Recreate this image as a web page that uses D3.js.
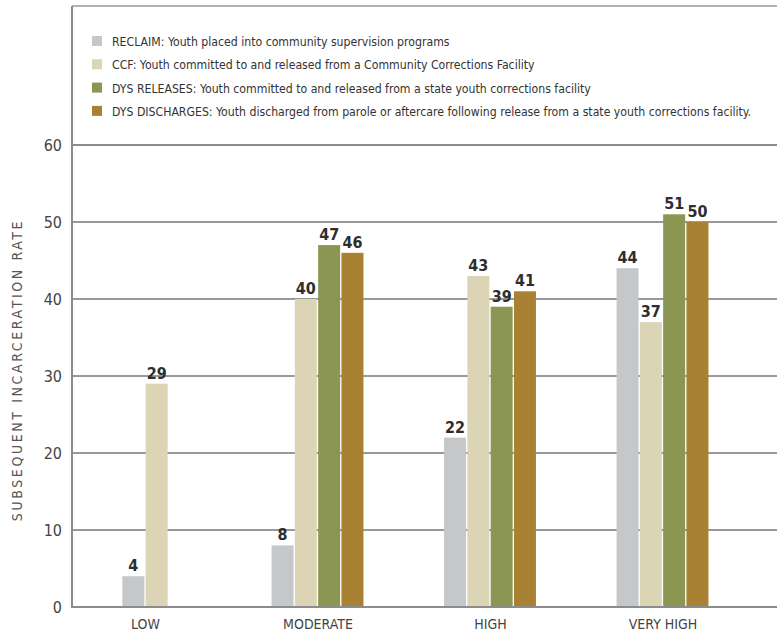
<!DOCTYPE html>
<html>
<head>
<meta charset="utf-8">
<script src="https://cdn.jsdelivr.net/npm/d3@7"></script>
<style>
  html, body { margin: 0; padding: 0; background: #fff; }
  svg { display: block; }
  text { font-family: "Liberation Sans Narrow", "DejaVu Sans Condensed", "Arial Narrow", sans-serif; font-stretch: condensed; }
</style>
</head>
<body>
<svg id="chart" width="777" height="634"></svg>
<script>
const categories = ["LOW", "MODERATE", "HIGH", "VERY HIGH"];
const seriesNames = ["RECLAIM", "CCF", "DYS RELEASES", "DYS DISCHARGES"];
const legendLabels = [
  "RECLAIM: Youth placed into community supervision programs",
  "CCF: Youth committed to and released from a Community Corrections Facility",
  "DYS RELEASES: Youth committed to and released from a state youth corrections facility",
  "DYS DISCHARGES: Youth discharged from parole or aftercare following release from a state youth corrections facility."
];
const reclaim = [4, 8, 22, 44];
const ccf = [29, 40, 43, 37];
const dysReleases = [null, 47, 39, 51];
const dysDischarges = [null, 46, 41, 50];
const yTicks = [0, 10, 20, 30, 40, 50, 60];
const yTitle = "SUBSEQUENT INCARCERATION RATE";
const colors = ["#c6c7c9", "#dbd5b5", "#8a9652", "#a88232"];

const series = [reclaim, ccf, dysReleases, dysDischarges];

const svg = d3.select("#chart");
const W = 777, H = 634;
const plotLeft = 72, plotRight = 777, plotTop = 145, plotBottom = 607;

const y = d3.scaleLinear().domain([0, 60]).range([plotBottom, plotTop]);
const x = d3.scalePoint().domain(categories).range([plotLeft + 73, plotRight - 114.5]);
const barW = 22, barStep = 23.3;

// gridlines
svg.append("g").selectAll("line").data(yTicks).join("line")
  .attr("x1", plotLeft).attr("x2", plotRight)
  .attr("y1", d => y(d)).attr("y2", d => y(d))
  .attr("stroke", d => (d === 0 || d === 60) ? "#8c8c8c" : "#333")
  .attr("stroke-width", d => (d === 0 || d === 60) ? 2 : 1);

// frame
svg.append("line").attr("x1", plotLeft).attr("x2", W).attr("y1", 6).attr("y2", 6)
  .attr("stroke", "#999").attr("stroke-width", 1.5);
svg.append("line").attr("x1", plotLeft).attr("x2", plotLeft).attr("y1", 6).attr("y2", plotBottom + 1)
  .attr("stroke", "#8c8c8c").attr("stroke-width", 2);

// y axis labels
const yAxis = d3.axisLeft(y).tickValues(yTicks).tickSize(0).tickPadding(10);
const gy = svg.append("g").attr("transform", `translate(${plotLeft},0)`).call(yAxis);
gy.select(".domain").remove();
gy.selectAll("text").attr("font-size", 16).attr("fill", "#444")
  .style("font-family", '"Liberation Sans Narrow", "DejaVu Sans Condensed", sans-serif');

// x axis labels
const xAxis = d3.axisBottom(x).tickSize(0).tickPadding(12);
const gx = svg.append("g").attr("transform", `translate(0,${plotBottom})`).call(xAxis);
gx.select(".domain").remove();
gx.selectAll("text").attr("font-size", 14).attr("fill", "#444")
  .style("font-family", '"Liberation Sans Narrow", "DejaVu Sans Condensed", sans-serif');

// bars
const barData = [];
categories.forEach((c, ci) => {
  const present = series.map((s, si) => ({ si, v: s[ci] })).filter(d => d.v !== null);
  present.forEach((d, k) => {
    barData.push({ cat: c, si: d.si, v: d.v, off: (k - (present.length - 1) / 2) * barStep });
  });
});
svg.append("g").selectAll("rect").data(barData).join("rect")
  .attr("x", d => x(d.cat) + d.off - barW / 2)
  .attr("width", barW)
  .attr("y", d => y(d.v))
  .attr("height", d => y(0) - y(d.v) - 1)
  .attr("fill", d => colors[d.si]);

svg.append("g").selectAll("text").data(barData).join("text")
  .attr("x", d => x(d.cat) + d.off)
  .attr("y", d => y(d.v) - 5)
  .attr("text-anchor", "middle")
  .attr("font-size", 16).attr("font-weight", "bold").attr("fill", "#2e2e2e")
  .text(d => d.v);

// y title
svg.append("text")
  .attr("transform", `translate(22,370) rotate(-90)`)
  .attr("text-anchor", "middle")
  .attr("font-size", 14).attr("fill", "#555")
  .attr("letter-spacing", 2.6)
  .text(yTitle);

// legend
const lg = svg.append("g");
const rows = lg.selectAll("g").data(legendLabels).join("g")
  .attr("transform", (d, i) => `translate(92,${36 + i * 23.3})`);
rows.append("rect").attr("width", 10).attr("height", 10).attr("fill", (d, i) => colors[i]);
const lt = rows.append("text").attr("x", 20).attr("y", 10)
  .attr("font-size", 14).attr("fill", "#333").text(d => d);
// fit longest legend line to reference width by font size
let maxLen = 0;
lt.each(function () { maxLen = Math.max(maxLen, this.getComputedTextLength()); });
const fs = Math.min(14, 14 * 640 / maxLen);
lt.attr("font-size", fs);
</script>
</body>
</html>
